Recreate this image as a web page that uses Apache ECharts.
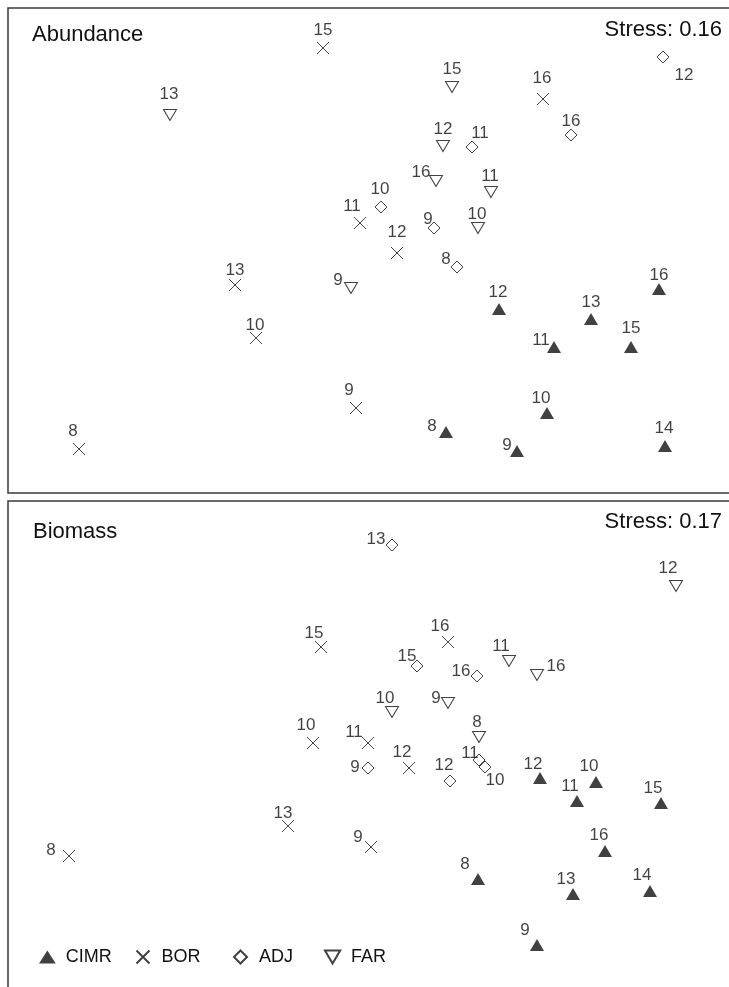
<!DOCTYPE html>
<html>
<head>
<meta charset="utf-8">
<title>nMDS</title>
<style>
  html, body { margin: 0; width: 100%; height: 100%; background: #fff; }
  #chart { width: 729px; height: 987px; }
</style>
</head>
<body>
<div id="chart"></div>
<script src="https://cdn.jsdelivr.net/npm/echarts@6/dist/echarts.min.js"></script>
<script>
// points as [x, y, station]
const abundanceCIMR = [[446,432,8],[517,451,9],[547,413,10],[554,347,11],[499,309,12],[591,319,13],[665,446,14],[631,347,15],[659,289,16]];
const abundanceBOR  = [[79,449,8],[356,408,9],[256,338,10],[360,223,11],[397,253,12],[235,285,13],[323,48,15],[543,99,16]];
const abundanceADJ  = [[457,267,8],[434,228,9],[381,207,10],[472,147,11],[663,57,12],[571,135,16]];
const abundanceFAR  = [[351,288,9],[478,228,10],[491,192,11],[443,146,12],[170,115,13],[452,87,15],[436,181,16]];

const biomassCIMR = [[478,879,8],[537,945,9],[596,782,10],[577,801,11],[540,778,12],[573,894,13],[650,891,14],[661,803,15],[605,851,16]];
const biomassBOR  = [[69,856,8],[371,847,9],[313,743,10],[368,743,11],[409,768,12],[288,826,13],[321,647,15],[448,642,16]];
const biomassADJ  = [[368,768,9],[485,767,10],[479,760,11],[450,781,12],[392,545,13],[417,666,15],[477,676,16]];
const biomassFAR  = [[479,737,8],[448,703,9],[392,712,10],[509,661,11],[676,586,12],[537,675,16]];

const groups = ['CIMR', 'BOR', 'ADJ', 'FAR'];
const stress = ['Stress: 0.16', 'Stress: 0.17'];

// label nudges (dx, dy from the symbol centre), same order as the points
const labelShift = {
  aCIMR: [[-14,-6],[-10,-6],[-6,-15],[-13,-7],[-1,-17],[0,-17],[-1,-18],[0,-19],[0,-14]],
  aBOR:  [[-6,-18],[-7,-18],[-1,-13],[-8,-17],[0,-21],[0,-15],[0,-18],[-1,-21]],
  aADJ:  [[-11,-8],[-6,-9],[-1,-18],[8,-14],[21,18],[0,-14]],
  aFAR:  [[-13,-8],[-1,-14],[-1,-16],[0,-17],[-1,-21],[0,-18],[-15,-9]],
  bCIMR: [[-13,-15],[-12,-15],[-7,-16],[-7,-15],[-7,-14],[-7,-15],[-8,-16],[-8,-15],[-6,-16]],
  bBOR:  [[-18,-6],[-13,-10],[-7,-18],[-14,-11],[-7,-16],[-5,-13],[-7,-14],[-8,-16]],
  bADJ:  [[-13,-1],[10,13],[-9,-7],[-6,-16],[-16,-6],[-10,-10],[-16,-5]],
  bFAR:  [[-2,-15],[-12,-5],[-7,-14],[-8,-15],[-8,-18],[19,-9]]
};

const font = "'Liberation Sans', Arial, Helvetica, sans-serif";
const ink = '#111';

const symbols = {
  CIMR: { symbol: 'triangle', symbolSize: [14, 12], rotate: 0, itemStyle: { color: ink, borderWidth: 0 },
          icon: 'path://M0,14L9,0L18,14Z', legendLeft: 39 },
  BOR:  { symbol: 'path://M0,0L10,10M10,0L0,10', symbolSize: 12, rotate: 0, itemStyle: { color: 'none', borderColor: ink, borderWidth: 1 },
          icon: 'path://M0,0L10,10M10,0L0,10', legendLeft: 134 },
  ADJ:  { symbol: 'diamond', symbolSize: [12, 12], rotate: 0, itemStyle: { color: '#fff', borderColor: ink, borderWidth: 1 },
          icon: 'path://M5,0L10,5L5,10L0,5Z', legendLeft: 233 },
  FAR:  { symbol: 'triangle', symbolSize: [13, 11], rotate: 180, itemStyle: { color: '#fff', borderColor: ink, borderWidth: 1 },
          icon: 'path://M0,0L14,0L7,12Z', legendLeft: 324 }
};

function makeSeries(name, pts, shifts, panel) {
  const s = symbols[name];
  return {
    name: name,
    type: 'scatter',
    xAxisIndex: panel,
    yAxisIndex: panel,
    symbol: s.symbol,
    symbolSize: s.symbolSize,
    symbolRotate: s.rotate,
    itemStyle: s.itemStyle,
    emphasis: { disabled: true },
    label: {
      show: true,
      position: 'inside',
      formatter: p => String(p.value[2]),
      fontSize: 17,
      fontFamily: font,
      color: ink
    },
    data: pts.map((p, i) => ({ value: p, label: { offset: shifts[i] } }))
  };
}

const titleStyle = { fontSize: 22, fontWeight: 'normal', fontFamily: font, color: ink };

// one legend per group so the uneven spacing of the original can be kept
const legends = groups.map(g => ({
  data: [{ name: g, icon: symbols[g].icon }],
  left: symbols[g].legendLeft,
  top: 948,
  itemWidth: 19,
  itemHeight: 13,
  selectedMode: false,
  padding: 0,
  textStyle: { fontSize: 18, fontFamily: font, color: ink, padding: [0, 0, 0, 4] }
}));

const chart = echarts.init(document.getElementById('chart'));
chart.setOption({
  animation: false,
  title: [
    { text: 'Abundance', left: 32, top: 24, padding: 0, textStyle: titleStyle },
    { text: stress[0], right: 7, top: 19, padding: 0, textStyle: titleStyle },
    { text: 'Biomass', left: 33, top: 521, padding: 0, textStyle: titleStyle },
    { text: stress[1], right: 7, top: 511, padding: 0, textStyle: titleStyle }
  ],
  legend: legends,
  grid: [
    { left: 8, top: 8, width: 725, height: 485, outerBoundsMode: 'none', show: true, borderColor: '#3a3a3a', borderWidth: 1.5 },
    { left: 8, top: 501, width: 725, height: 490, outerBoundsMode: 'none', show: true, borderColor: '#3a3a3a', borderWidth: 1.5 }
  ],
  xAxis: [
    { gridIndex: 0, type: 'value', min: 8, max: 733, show: false },
    { gridIndex: 1, type: 'value', min: 8, max: 733, show: false }
  ],
  yAxis: [
    { gridIndex: 0, type: 'value', min: 8, max: 493, inverse: true, show: false },
    { gridIndex: 1, type: 'value', min: 501, max: 991, inverse: true, show: false }
  ],
  series: [
    makeSeries('CIMR', abundanceCIMR, labelShift.aCIMR, 0),
    makeSeries('BOR', abundanceBOR, labelShift.aBOR, 0),
    makeSeries('ADJ', abundanceADJ, labelShift.aADJ, 0),
    makeSeries('FAR', abundanceFAR, labelShift.aFAR, 0),
    makeSeries('CIMR', biomassCIMR, labelShift.bCIMR, 1),
    makeSeries('BOR', biomassBOR, labelShift.bBOR, 1),
    makeSeries('ADJ', biomassADJ, labelShift.bADJ, 1),
    makeSeries('FAR', biomassFAR, labelShift.bFAR, 1)
  ]
});
</script>
</body>
</html>
